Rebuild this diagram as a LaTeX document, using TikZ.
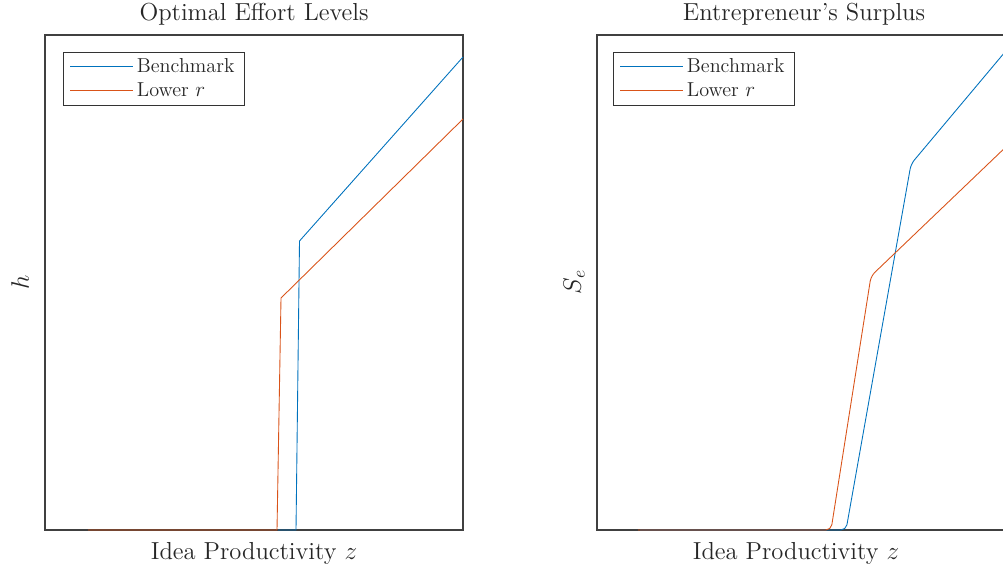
\documentclass[tikz,border=0pt]{standalone}
\definecolor{mblue}{rgb}{0,0.447,0.741}
\definecolor{morange}{rgb}{0.85,0.325,0.098}
\begin{document}
\begin{tikzpicture}[x=0.02cm,y=-0.02cm]
	\tikzset{axbox/.style={draw=black!75,line width=0.6pt},
		bench/.style={mblue,line width=0.5pt},
		lowr/.style={morange,line width=0.5pt},
		ttl/.style={font=\fontsize{14}{16}\selectfont,text=black!85},
		lbl/.style={font=\fontsize{14}{16}\selectfont,text=black!85},
		lgd/.style={font=\fontsize{11.5}{13}\selectfont,text=black!85,anchor=west,inner sep=0pt}}
	\useasboundingbox (0,0) rectangle (1003,569);
	% left panel
	\draw [axbox] (45,35) rectangle (463,530);
	\coordinate (B0) at (278,530);
	\coordinate (B1) at (296,530);
	\coordinate (B2) at (299.5,241);
	\coordinate (B3) at (463,57);
	\coordinate (L0) at (88,530);
	\coordinate (L1) at (277,530);
	\coordinate (L2) at (281,298);
	\coordinate (L3) at (463,119);
	\draw [bench] (B0) -- (B1) -- (B2) -- (B3);
	\draw [lowr] (L0) -- (L1) -- (L2) -- (L3);
	\node [ttl] (t1) at (254,14) {Optimal Effort Levels};
	\node [lbl] (x1) at (254,553) {Idea Productivity $z$};
	\node [lbl,rotate=90] (y1) at (20,282) {$h$};
	\draw [black!80,fill=white,line width=0.5pt] (63,52) rectangle (244,105);
	\draw [bench] (70,66) -- (133,66) node [lgd,right=2pt] (k1) {Benchmark};
	\draw [lowr] (70,90) -- (133,90) node [lgd,right=2pt] (k2) {Lower $r$};
	% right panel
	\draw [axbox] (1010,35) -- (597,35) -- (597,530) -- (1010,530);
	\coordinate (C0) at (640,530);
	\coordinate (C1) at (846,530);
	\coordinate (C2) at (911,164);
	\coordinate (C3) at (1010,46);
	\coordinate (M0) at (638,530);
	\coordinate (M1) at (831,530);
	\coordinate (M2) at (871,276);
	\coordinate (M3) at (1010,143);
	\draw [bench,rounded corners=3pt] (C0) -- (C1) -- (C2) -- (C3);
	\draw [lowr,rounded corners=3pt] (M0) -- (M1) -- (M2) -- (M3);
	\node [ttl] (t2) at (804,14) {Entrepreneur's Surplus};
	\node [lbl] (x2) at (796,553) {Idea Productivity $z$};
	\node [lbl,rotate=90] (y2) at (574,282) {$S_e$};
	\draw [black!80,fill=white,line width=0.5pt] (613,52) rectangle (794,105);
	\draw [bench] (620,66) -- (683,66) node [lgd,right=2pt] (k3) {Benchmark};
	\draw [lowr] (620,90) -- (683,90) node [lgd,right=2pt] (k4) {Lower $r$};
\end{tikzpicture}
\end{document}
